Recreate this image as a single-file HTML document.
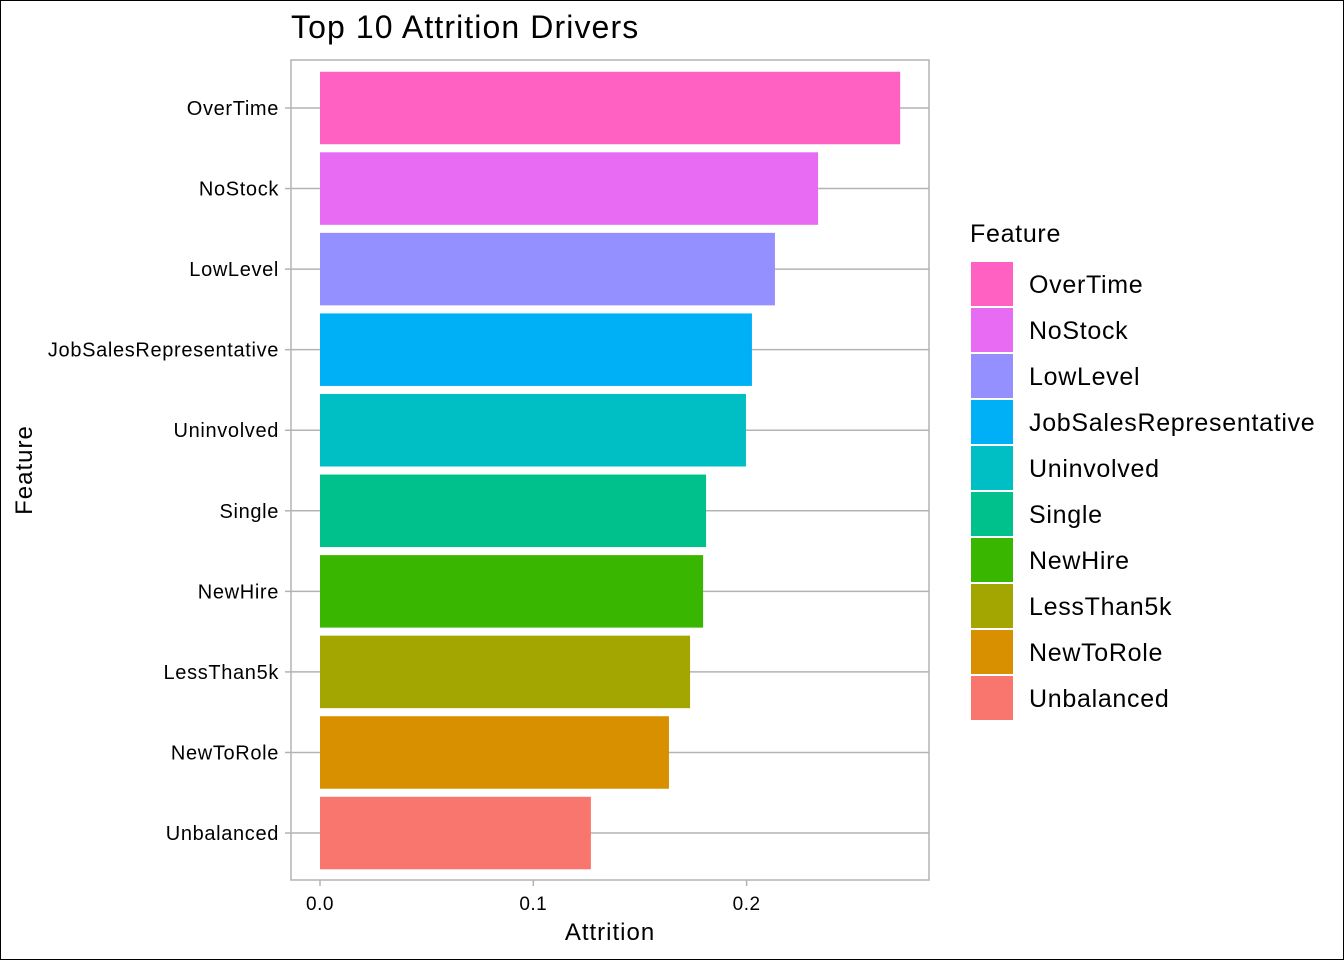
<!DOCTYPE html>
<html><head><meta charset="utf-8"><style>
body{margin:0;background:#fff}
svg{display:block;font-family:"Liberation Sans",sans-serif}
</style></head><body>
<svg id="chart" width="1344" height="960">
<rect x="0.5" y="0.5" width="1343" height="959" fill="#fff" stroke="#000"/>
<text x="291" y="38" font-size="32" letter-spacing="1.1" fill="#000">Top 10 Attrition Drivers</text>
<g id="grid"></g><g id="bars"></g>
<rect x="291" y="60" width="638" height="820" fill="none" stroke="#b3b3b3" stroke-width="1.5"/>
<g id="yaxis"></g><g id="xaxis"></g>
<text x="610" y="940" font-size="24" letter-spacing="1" text-anchor="middle">Attrition</text>
<text transform="translate(32,470) rotate(-90)" font-size="24" letter-spacing="1" text-anchor="middle">Feature</text>
<g id="legend"><text x="970" y="242" font-size="25" letter-spacing="0.7">Feature</text></g>
</svg>
<script>
const categories=["OverTime","NoStock","LowLevel","JobSalesRepresentative","Uninvolved","Single","NewHire","LessThan5k","NewToRole","Unbalanced"];
const values=[0.272,0.2335,0.2133,0.2025,0.1997,0.181,0.1796,0.1735,0.1636,0.127];
const colors=["#FF61C3","#E76BF3","#9590FF","#00B0F6","#00BFC4","#00C08B","#39B600","#A3A500","#D89000","#F8766D"];
const xTicks=[0,0.1,0.2];
const xTickLabels=["0.0","0.1","0.2"];
const NS="http://www.w3.org/2000/svg";
const x=v=>320+v*2133;
const step=80.56;
const y=i=>108+i*step;
function mk(tag,attrs,parent,txt){const e=document.createElementNS(NS,tag);for(const k in attrs)e.setAttribute(k,attrs[k]);if(txt!==undefined)e.textContent=txt;document.getElementById(parent).appendChild(e);return e;}
categories.forEach((c,i)=>{
  const g=mk('line',{x1:291,x2:929,y1:y(i),y2:y(i),stroke:'#b3b3b3','stroke-width':1.5},'grid');
  
  
  const b=mk('rect',{x:x(0),y:y(i)-step*0.45,width:x(values[i])-x(0),height:step*0.9,fill:colors[i]},'bars');
  
  
  const t=mk('line',{x1:285,x2:291,y1:y(i),y2:y(i),stroke:'#b3b3b3','stroke-width':1.5},'yaxis');
  
  
  const l=mk('text',{x:279,y:y(i)+7,'font-size':20,'letter-spacing':0.65,'text-anchor':'end',fill:'#000'},'yaxis',c);
  
  
  const ly=262+i*46;
  const k=mk('rect',{x:971,y:ly,width:42,height:44,fill:colors[i]},'legend');
  
  
  const lt=mk('text',{x:1029,y:ly+31,'font-size':25,'letter-spacing':0.7,fill:'#000'},'legend',c);
  
  
});
xTicks.forEach((v,i)=>{
  const t=mk('line',{x1:x(v),x2:x(v),y1:880,y2:886,stroke:'#b3b3b3','stroke-width':1.5},'xaxis');
  
  
  const l=mk('text',{x:x(v),y:910,'font-size':19,'letter-spacing':0.5,'text-anchor':'middle',fill:'#000'},'xaxis',xTickLabels[i]);
  
  
});
</script>
</body></html>
